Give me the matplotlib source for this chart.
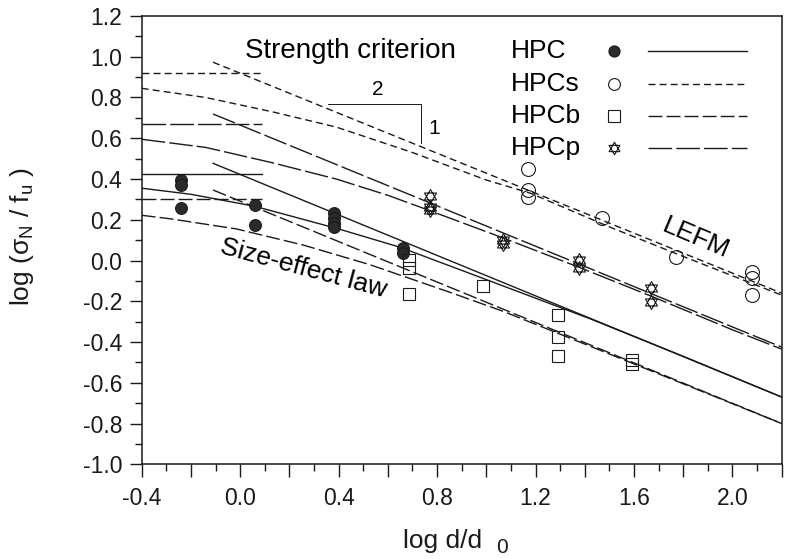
"""Size-effect plot for HPC mixes: log nominal strength vs log size."""
import numpy as np
import matplotlib
matplotlib.use('Agg')
import matplotlib.pyplot as plt
from matplotlib.path import Path
from matplotlib.ticker import MultipleLocator, FuncFormatter

plt.rcParams['font.family'] = ['Liberation Sans', 'DejaVu Sans']
plt.rcParams['mathtext.fontset'] = 'custom'
plt.rcParams['mathtext.rm'] = 'Liberation Sans'
plt.rcParams['mathtext.default'] = 'regular'

INK = '#1a1a1a'
FILL = '#2a2a2a'

hpc_x = [-0.24, -0.24, -0.24, 0.06, 0.06, 0.38, 0.38, 0.38, 0.38, 0.66, 0.66]
hpc_y = [0.395, 0.37, 0.257, 0.272, 0.174, 0.235, 0.21, 0.185, 0.165, 0.06, 0.035]
hpcs_x = [1.17, 1.17, 1.17, 1.47, 1.77, 2.08, 2.08, 2.08]
hpcs_y = [0.449, 0.346, 0.31, 0.208, 0.017, -0.057, -0.086, -0.17]
hpcb_x = [0.685, 0.685, 0.685, 0.985, 1.29, 1.29, 1.29, 1.59, 1.59]
hpcb_y = [0.002, -0.035, -0.163, -0.125, -0.268, -0.376, -0.47, -0.49, -0.51]
hpcp_x = [0.77, 0.77, 0.77, 1.066, 1.066, 1.375, 1.375, 1.67, 1.67]
hpcp_y = [0.316, 0.262, 0.25, 0.10, 0.08, 0.002, -0.037, -0.135, -0.204]

# strength criterion (horizontal), x range shared
strength_x = [-0.4, 0.09]
strength_y = {'HPC': 0.425, 'HPCs': 0.922, 'HPCb': 0.30, 'HPCp': 0.668}

# LEFM asymptotes, two end points each
lefm_x = [-0.11, 2.2]
lefm_y = {
    'HPC': [0.477, -0.67],
    'HPCs': [0.973, -0.16],
    'HPCb': [0.346, -0.80],
    'HPCp': [0.719, -0.425],
}

# size-effect law curves
sel_hpc_x = [-0.4, -0.2, 0.06, 0.4, 0.65, 0.97, 1.42, 1.8, 2.2]
sel_hpc_y = [0.355, 0.325, 0.266, 0.155, 0.065, -0.08, -0.285, -0.47, -0.67]
sel_hpcs_x = [-0.4, -0.14, 0.13, 0.39, 0.7, 1.0, 1.18, 1.5, 1.8, 2.2]
sel_hpcs_y = [0.845, 0.80, 0.73, 0.655, 0.53, 0.395, 0.33, 0.165, 0.02, -0.17]
sel_hpcb_x = [-0.4, -0.285, -0.015, 0.256, 0.526, 0.85, 1.07, 1.4, 1.8, 2.2]
sel_hpcb_y = [0.222, 0.205, 0.155, 0.076, -0.02, -0.155, -0.25, -0.41, -0.605, -0.80]
sel_hpcp_x = [-0.4, -0.14, 0.13, 0.39, 0.6, 0.77, 1.07, 1.37, 1.67, 2.0, 2.2]
sel_hpcp_y = [0.595, 0.555, 0.48, 0.40, 0.32, 0.245, 0.11, -0.03, -0.175, -0.34, -0.435]

# slope 1:2 indicator
slope_x = [0.357, 0.736, 0.736]
slope_y = [0.766, 0.766, 0.575]

SERIES = ['HPC', 'HPCs', 'HPCb', 'HPCp']
DASHES = {
    'HPC': '-',
    'HPCs': (0, (5, 3)),
    'HPCb': (0, (10, 3)),
    'HPCp': (0, (17, 3)),
}

_up = [(0, 1), (0.866, -0.5), (-0.866, -0.5), (0, 1)]
_dn = [(0, -1), (0.866, 0.5), (-0.866, 0.5), (0, -1)]
_codes = [Path.MOVETO, Path.LINETO, Path.LINETO, Path.CLOSEPOLY]
HEXAGRAM = Path(_up + _dn, _codes * 2)

MARKERS = {
    'HPC': dict(marker='o', ms=8.5, mfc=FILL, mec=INK, mew=0.8),
    'HPCs': dict(marker='o', ms=10, mfc='none', mec=INK, mew=0.8),
    'HPCb': dict(marker='s', ms=9, mfc='none', mec=INK, mew=0.8),
    'HPCp': dict(marker=HEXAGRAM, ms=10, mfc='none', mec=INK, mew=0.8),
}
LEGEND_MS = {'HPC': 8, 'HPCs': 8.5, 'HPCb': 8.5, 'HPCp': 9}


def tick_label(v, step):
    v = round(v, 2) + 0.0
    k = v / step
    if abs(k - round(k)) > 1e-6:
        return ''
    return f'{v:.1f}'


fig = plt.figure(figsize=(7.85, 5.59), dpi=100)
ax = fig.add_axes([0.1805, 0.1694, 0.8153, 0.802])

sel = {
    'HPC': (sel_hpc_x, sel_hpc_y),
    'HPCs': (sel_hpcs_x, sel_hpcs_y),
    'HPCb': (sel_hpcb_x, sel_hpcb_y),
    'HPCp': (sel_hpcp_x, sel_hpcp_y),
}
pts = {
    'HPC': (hpc_x, hpc_y),
    'HPCs': (hpcs_x, hpcs_y),
    'HPCb': (hpcb_x, hpcb_y),
    'HPCp': (hpcp_x, hpcp_y),
}

for name in SERIES:
    ls = DASHES[name]
    ax.plot(strength_x, [strength_y[name]] * 2, color=INK, lw=1.0, ls=ls)
    ax.plot(lefm_x, lefm_y[name], color=INK, lw=1.0, ls=ls)
    ax.plot(*sel[name], color=INK, lw=1.0, ls=ls)

for name in SERIES:
    ax.plot(*pts[name], ls='none', **MARKERS[name])

ax.plot(slope_x, slope_y, color=INK, lw=0.7)
ax.text(0.559, 0.837, '2', fontsize=15, ha='center', va='center')
ax.text(0.79, 0.65, '1', fontsize=15, ha='center', va='center')

ax.text(0.449, 1.028, 'Strength criterion', fontsize=20, ha='center', va='center')
ax.text(1.853, 0.110, 'LEFM', fontsize=19, ha='center', va='center',
        rotation=-23, rotation_mode='anchor')
ax.text(0.256, -0.037, 'Size-effect law', fontsize=19, ha='center', va='center',
        rotation=-15, rotation_mode='anchor')

# hand-placed legend: name, marker, line sample
leg_y = [1.028, 0.864, 0.709, 0.552]
for name, y in zip(SERIES, leg_y):
    ax.text(1.10, y, name, fontsize=19, ha='left', va='center')
    style = dict(MARKERS[name], ms=LEGEND_MS[name])
    ax.plot([1.52], [y], ls='none', **style)
    ax.plot([1.658, 2.06], [y, y], color=INK, lw=1.0, ls=DASHES[name])

ax.set_xlim(-0.4, 2.2)
ax.set_ylim(-1.0, 1.2)
ax.xaxis.set_major_locator(MultipleLocator(0.2))
ax.xaxis.set_minor_locator(MultipleLocator(0.1))
ax.yaxis.set_major_locator(MultipleLocator(0.2))
ax.yaxis.set_minor_locator(MultipleLocator(0.1))
ax.xaxis.set_major_formatter(FuncFormatter(lambda v, _: tick_label(v, 0.4)))
ax.yaxis.set_major_formatter(FuncFormatter(lambda v, _: tick_label(v, 0.2)))
ax.tick_params(which='both', direction='out', top=False, right=False,
               color=INK, labelcolor=INK)
ax.tick_params(which='major', length=9, width=1.0, labelsize=16.5)
ax.tick_params(which='minor', length=5, width=1.0)
ax.tick_params(axis='x', which='major', pad=7)
ax.tick_params(axis='y', which='major', pad=5)
for sp in ax.spines.values():
    sp.set_linewidth(1.1)
    sp.set_color(INK)

fig.text(22 / 785, 1 - 237 / 559, r'log ($\sigma_N$ / f$_u$ )', fontsize=19,
         rotation=90, ha='center', va='center', color=INK)
fig.text(403 / 785, 1 - 548 / 559, 'log d/d', fontsize=19, va='baseline', color=INK)
fig.text(496 / 785, 1 - 553 / 559, '0', fontsize=15, va='baseline', color=INK)

fig.savefig('out.png', dpi=100)
plt.close(fig)
